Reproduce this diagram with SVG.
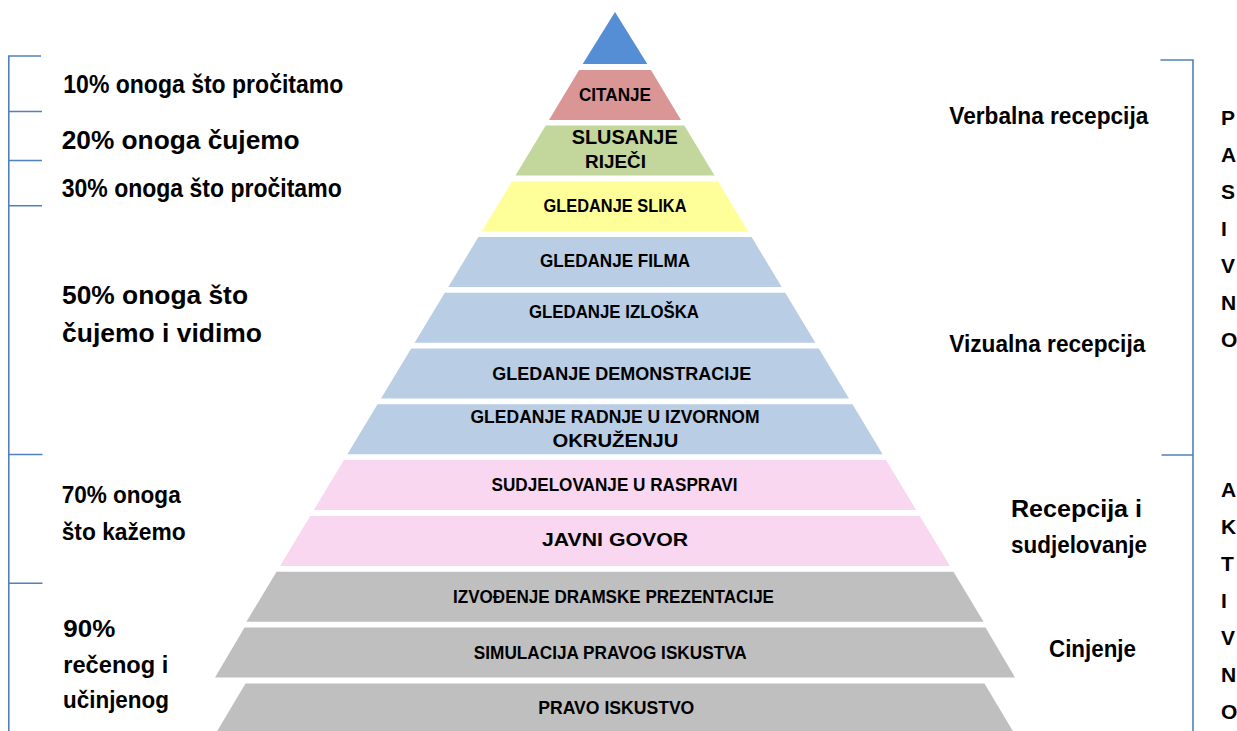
<svg xmlns="http://www.w3.org/2000/svg" width="1237" height="731" viewBox="0 0 1237 731">
<style>
text{font-family:"Liberation Sans",Arial,sans-serif;font-weight:bold;fill:#000}
.lt{font-size:19px;text-anchor:middle}
.side{font-size:25px}
.side2{font-size:23px}
.vl{font-size:21px}
.br{stroke:#4F81BD;stroke-width:1.6;fill:none}
.blue{fill:#B9CDE5}
.pink{fill:#F9D7F0}
.grey{fill:#BFBFBF}
</style>
<rect width="1237" height="731" fill="#fff"/>
<g id="pyramid">
<g id="apex"><polygon points="615,12 647.3,64 582.7,64" fill="#558ED5"/></g>
<g id="citanje"><polygon points="579.1,70 650.9,70 681,120 549,120" fill="#D99694"/>
<text class="lt" x="615" y="101" font-size="19" textLength="72" lengthAdjust="spacingAndGlyphs">CITANJE</text></g>
<g id="slusanje"><polygon points="545.7,125.5 684.3,125.5 714.5,175.5 515.5,175.5" fill="#C3D69B"/>
<text x="571.7" y="144.3" font-size="20" textLength="106" lengthAdjust="spacingAndGlyphs">SLUSANJE</text>
<text x="585" y="168.3" font-size="19" textLength="61" lengthAdjust="spacingAndGlyphs">RIJEČI</text></g>
<g id="slike"><polygon points="511.9,181.5 718.1,181.5 748.3,231.5 481.7,231.5" fill="#FFFF99"/>
<text class="lt" x="615" y="211.7" textLength="143" lengthAdjust="spacingAndGlyphs">GLEDANJE  SLIKA</text></g>
<g id="film"><polygon class="blue" points="478.4,237 751.6,237 781.7,287 448.3,287"/>
<text class="lt" x="615" y="267.3" textLength="150" lengthAdjust="spacingAndGlyphs">GLEDANJE FILMA</text></g>
<g id="izlozak"><polygon class="blue" points="444.8,292.8 785.2,292.8 815.4,342.8 414.6,342.8"/>
<text class="lt" x="614" y="318.3" textLength="170" lengthAdjust="spacingAndGlyphs">GLEDANJE IZLOŠKA</text></g>
<g id="demonstracija"><polygon class="blue" points="411.2,348.5 818.8,348.5 849,398.5 381,398.5"/>
<text class="lt" x="621.7" y="380" textLength="259" lengthAdjust="spacingAndGlyphs">GLEDANJE DEMONSTRACIJE</text></g>
<g id="radnja"><polygon class="blue" points="377.5,404.3 852.5,404.3 882.6,454.3 347.4,454.3"/>
<text class="lt" x="615" y="422.7" textLength="289" lengthAdjust="spacingAndGlyphs">GLEDANJE RADNJE U IZVORNOM</text>
<text class="lt" x="615.5" y="446.7" textLength="126" lengthAdjust="spacingAndGlyphs">OKRUŽENJU</text></g>
<g id="rasprava"><polygon class="pink" points="344,460 886,460 916.2,510 313.8,510"/>
<text class="lt" x="614.5" y="490.7" textLength="246" lengthAdjust="spacingAndGlyphs">SUDJELOVANJE U RASPRAVI</text></g>
<g id="govor"><polygon class="pink" points="310.2,516 919.8,516 950,566 280,566"/>
<text class="lt" x="615" y="546" font-size="21" textLength="146" lengthAdjust="spacingAndGlyphs">JAVNI GOVOR</text></g>
<g id="drama"><polygon class="grey" points="276.5,571.8 953.5,571.8 983.6,621.8 246.4,621.8"/>
<text class="lt" x="613.5" y="603.3" textLength="321" lengthAdjust="spacingAndGlyphs">IZVOĐENJE DRAMSKE PREZENTACIJE</text></g>
<g id="simulacija"><polygon class="grey" points="244.5,627.6 985.5,627.6 1015,677.6 215,677.6"/>
<text class="lt" x="610.3" y="659" textLength="273" lengthAdjust="spacingAndGlyphs">SIMULACIJA PRAVOG ISKUSTVA</text></g>
<g id="iskustvo"><polygon class="grey" points="245.5,683.4 984.5,683.4 1014,733 216,733"/>
<text class="lt" x="616.3" y="714" textLength="156" lengthAdjust="spacingAndGlyphs">PRAVO ISKUSTVO</text></g>
</g>
<g id="connectors">
<path class="br" d="M41,56 H8.8 V731 M8.8,111.5 H42 M8.8,160.5 H42 M8.8,205.7 H42 M8.8,454.5 H42.5 M8.8,583.3 H42.5"/>
<path class="br" d="M1160.5,60 H1193 V731 M1161.5,455 H1193"/>
</g>
<g id="left-labels">
<text class="side" x="63.3" y="92.7" textLength="280" lengthAdjust="spacingAndGlyphs">10% onoga što pročitamo</text>
<text class="side" x="61.7" y="149.3" textLength="238" lengthAdjust="spacingAndGlyphs">20% onoga čujemo</text>
<text class="side" x="61.7" y="196.7" textLength="280" lengthAdjust="spacingAndGlyphs">30% onoga što pročitamo</text>
<text class="side" x="62" y="304" textLength="186" lengthAdjust="spacingAndGlyphs">50% onoga što</text>
<text class="side" x="62" y="342" textLength="200" lengthAdjust="spacingAndGlyphs">čujemo i vidimo</text>
<text class="side2" x="61.7" y="503.3" textLength="119" lengthAdjust="spacingAndGlyphs">70% onoga</text>
<text class="side2" x="61.7" y="540" textLength="124" lengthAdjust="spacingAndGlyphs">što kažemo</text>
<text class="side2" x="63.3" y="636.7" textLength="52" lengthAdjust="spacingAndGlyphs">90%</text>
<text class="side2" x="63.3" y="673.3" textLength="105" lengthAdjust="spacingAndGlyphs">rečenog i</text>
<text class="side2" x="63" y="708.3" textLength="106" lengthAdjust="spacingAndGlyphs">učinjenog</text>
</g>
<g id="right-labels">
<text class="side2" x="949.3" y="124.3" textLength="199" lengthAdjust="spacingAndGlyphs">Verbalna recepcija</text>
<text class="side2" x="949.3" y="351.7" textLength="196" lengthAdjust="spacingAndGlyphs">Vizualna recepcija</text>
<text class="side2" x="1011" y="517.3" textLength="131" lengthAdjust="spacingAndGlyphs">Recepcija i</text>
<text class="side2" x="1011" y="552.7" textLength="136" lengthAdjust="spacingAndGlyphs">sudjelovanje</text>
<text class="side2" x="1049" y="656.7" textLength="87" lengthAdjust="spacingAndGlyphs">Cinjenje</text>
</g>
<g id="pasivno">
<text class="vl" x="1221" y="124.5">P</text>
<text class="vl" x="1221" y="161.5">A</text>
<text class="vl" x="1221" y="198.5">S</text>
<text class="vl" x="1221" y="235.5">I</text>
<text class="vl" x="1221" y="272.5">V</text>
<text class="vl" x="1221" y="309.5">N</text>
<text class="vl" x="1221" y="346.5">O</text>
</g>
<g id="aktivno">
<text class="vl" x="1221" y="496.5">A</text>
<text class="vl" x="1221" y="533.5">K</text>
<text class="vl" x="1221" y="570.5">T</text>
<text class="vl" x="1221" y="607.5">I</text>
<text class="vl" x="1221" y="644.5">V</text>
<text class="vl" x="1221" y="681.5">N</text>
<text class="vl" x="1221" y="718.5">O</text>
</g>
</svg>
